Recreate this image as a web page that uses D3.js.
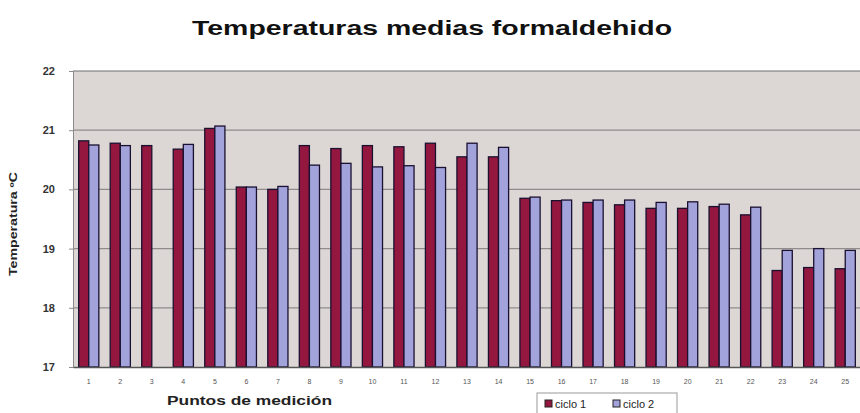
<!DOCTYPE html>
<html>
<head>
<meta charset="utf-8">
<script src="https://cdn.jsdelivr.net/npm/d3@7"></script>
<style>
  html, body { margin: 0; padding: 0; background: #ffffff; }
  svg { display: block; font-family: "Liberation Sans", Arial, sans-serif; }
</style>
</head>
<body>
<svg id="chart" width="860" height="413"></svg>
<script>
// Measurement points and mean temperatures (°C) for each cycle
const puntos = d3.range(1, 26).map(String);
const ciclo1 = [20.82, 20.78, 20.74, 20.68, 21.03, 20.04, 20.00, 20.74, 20.69, 20.74,
                20.72, 20.78, 20.55, 20.55, 19.85, 19.81, 19.78, 19.74, 19.68, 19.68,
                19.71, 19.57, 18.63, 18.68, 18.66];
const ciclo2 = [20.75, 20.74, null, 20.76, 21.07, 20.04, 20.05, 20.41, 20.44, 20.38,
                20.40, 20.37, 20.78, 20.71, 19.87, 19.82, 19.82, 19.82, 19.78, 19.79,
                19.75, 19.70, 18.97, 19.00, 18.97];
const yTicks = [17, 18, 19, 20, 21, 22];
const seriesNames = ["ciclo 1", "ciclo 2"];
const seriesColors = ["#93173f", "#a3a3dc"];

const svg = d3.select("#chart");
const plot = { left: 73, right: 861, top: 71, bottom: 367 };

const x0 = d3.scaleBand().domain(puntos).range([plot.left, plot.right]).paddingInner(0.36).paddingOuter(0.18);
const x1 = d3.scaleBand().domain([0, 1]).range([0, x0.bandwidth()]);
const y = d3.scaleLinear().domain([17, 22]).range([plot.bottom, plot.top]);

// Plot background
svg.append("rect")
  .attr("x", plot.left).attr("y", plot.top)
  .attr("width", plot.right - plot.left).attr("height", plot.bottom - plot.top)
  .attr("fill", "#dcd7d5");

// Horizontal grid lines
svg.append("g")
  .selectAll("line")
  .data(yTicks.filter(t => t > 17))
  .join("line")
  .attr("x1", plot.left).attr("x2", plot.right)
  .attr("y1", d => y(d)).attr("y2", d => y(d))
  .attr("stroke", d => d === 22 ? "#6e6e6e" : "#8e8c8c")
  .attr("stroke-width", 1.2);

// Bars
const groups = svg.append("g")
  .selectAll("g")
  .data(puntos.map((p, i) => ({ p, vals: [ciclo1[i], ciclo2[i]] })))
  .join("g")
  .attr("transform", d => `translate(${x0(d.p)},0)`);

groups.selectAll("rect")
  .data(d => d.vals.map((v, k) => ({ v, k })).filter(e => e.v != null))
  .join("rect")
  .attr("x", e => x1(e.k))
  .attr("y", e => y(e.v))
  .attr("width", x1.bandwidth())
  .attr("height", e => y(17) - y(e.v))
  .attr("fill", e => seriesColors[e.k])
  .attr("stroke", "#1a1030")
  .attr("stroke-width", 1.3);

// Y axis
const yAxis = svg.append("g")
  .attr("transform", `translate(${plot.left},0)`)
  .call(d3.axisLeft(y).tickValues(yTicks).tickSize(4).tickPadding(14).tickFormat(d3.format("d")));
yAxis.select(".domain").attr("stroke", "#8a8a8a");
yAxis.selectAll(".tick line").attr("stroke", "#8a8a8a");
yAxis.selectAll("text").attr("font-size", 11).attr("font-weight", "bold").attr("fill", "#333");

// X axis
const xAxis = svg.append("g")
  .attr("transform", `translate(0,${plot.bottom})`)
  .call(d3.axisBottom(x0).tickSize(0).tickPadding(12));
xAxis.select(".domain").attr("stroke", "#555").attr("stroke-width", 1.3);
xAxis.selectAll("text").attr("font-size", 7).attr("fill", "#555");

// Title
svg.append("text")
  .attr("x", 432).attr("y", 35)
  .attr("text-anchor", "middle")
  .attr("font-size", 20).attr("font-weight", "bold")
  .attr("textLength", 480).attr("lengthAdjust", "spacingAndGlyphs")
  .attr("fill", "#111")
  .text("Temperaturas medias formaldehido");

// Axis titles
svg.append("text")
  .attr("transform", "translate(17,224) rotate(-90)")
  .attr("text-anchor", "middle")
  .attr("font-size", 10).attr("font-weight", "bold").attr("fill", "#222")
  .attr("textLength", 104).attr("lengthAdjust", "spacingAndGlyphs")
  .text("Temperatura ºC");

svg.append("text")
  .attr("x", 167).attr("y", 405)
  .attr("font-size", 12).attr("font-weight", "bold").attr("fill", "#222")
  .attr("textLength", 165).attr("lengthAdjust", "spacingAndGlyphs")
  .text("Puntos de medición");

// Legend
const legend = svg.append("g").attr("transform", "translate(537,393)");
legend.append("rect")
  .attr("x", 0).attr("y", 0).attr("width", 140).attr("height", 22)
  .attr("fill", "#fff").attr("stroke", "#999");
const items = legend.selectAll("g.item")
  .data(seriesNames)
  .join("g")
  .attr("class", "item")
  .attr("transform", (d, i) => `translate(${8 + i * 68},0)`);
items.append("rect")
  .attr("x", 0).attr("y", 7).attr("width", 7).attr("height", 7)
  .attr("fill", (d, i) => seriesColors[i]).attr("stroke", "#222");
items.append("text")
  .attr("x", 10).attr("y", 15)
  .attr("font-size", 11).attr("fill", "#222")
  .text(d => d);
</script>
</body>
</html>
